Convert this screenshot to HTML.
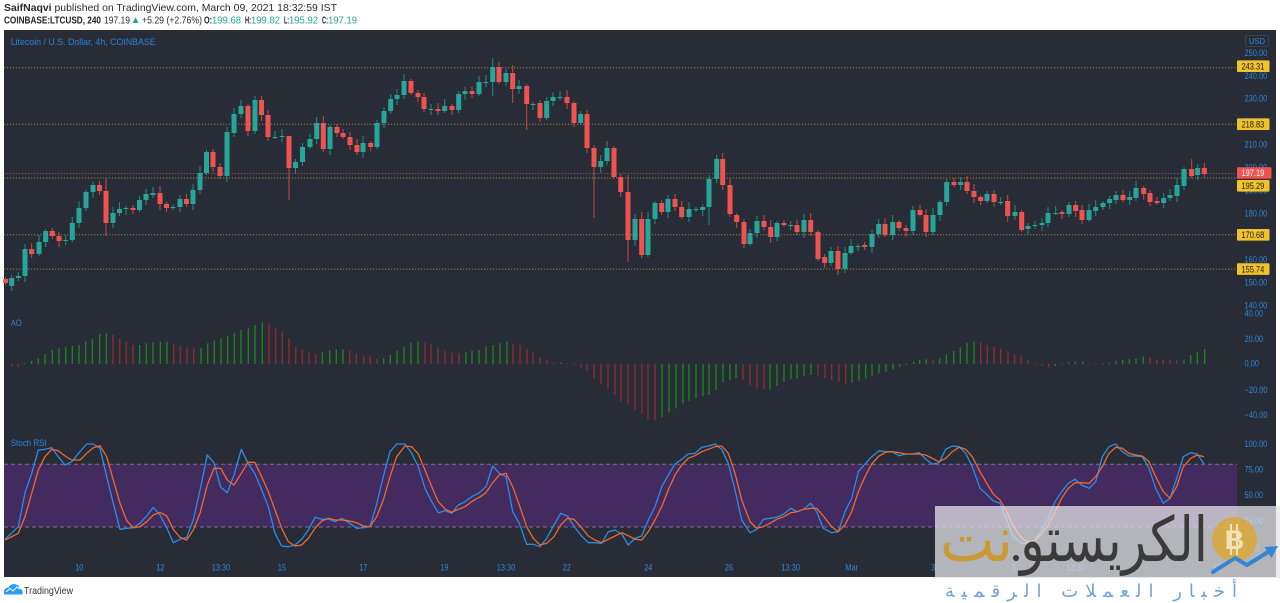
<!DOCTYPE html>
<html><head><meta charset="utf-8">
<style>
html,body{margin:0;padding:0;background:#fff;}
body{width:1280px;height:603px;overflow:hidden;position:relative;}
svg{position:absolute;left:0;top:0;display:block;}
</style></head>
<body>
<svg id="s" width="1280" height="603" viewBox="0 0 1280 603" xmlns="http://www.w3.org/2000/svg" font-family="'Liberation Sans', Arial, sans-serif">
<rect x="0" y="0" width="1280" height="603" fill="#ffffff"/>
<!-- header -->
<text x="4" y="11" font-size="10.5" fill="#2b2b2b" textLength="333" lengthAdjust="spacingAndGlyphs"><tspan font-weight="bold">SaifNaqvi</tspan> published on TradingView.com, March 09, 2021 18:32:59 IST</text>
<g font-size="10.5">
<text x="4" y="23.5" font-weight="bold" fill="#222" textLength="97" lengthAdjust="spacingAndGlyphs">COINBASE:LTCUSD, 240</text>
<text x="104" y="23.5" fill="#2b2b2b" textLength="26" lengthAdjust="spacingAndGlyphs">197.19</text>
<polygon points="132.5,23 138.5,23 135.5,17.3" fill="#26a69a"/>
<text x="142" y="23.5" fill="#2b2b2b" textLength="60" lengthAdjust="spacingAndGlyphs">+5.29 (+2.76%)</text>
<text x="204" y="23.5" fill="#222" font-weight="bold" textLength="8" lengthAdjust="spacingAndGlyphs">O:</text>
<text x="212" y="23.5" fill="#26a69a" textLength="29" lengthAdjust="spacingAndGlyphs">199.68</text>
<text x="245" y="23.5" fill="#222" font-weight="bold" textLength="6" lengthAdjust="spacingAndGlyphs">H:</text>
<text x="251" y="23.5" fill="#26a69a" textLength="29" lengthAdjust="spacingAndGlyphs">199.82</text>
<text x="284" y="23.5" fill="#222" font-weight="bold" textLength="5" lengthAdjust="spacingAndGlyphs">L:</text>
<text x="289" y="23.5" fill="#26a69a" textLength="29" lengthAdjust="spacingAndGlyphs">195.92</text>
<text x="322" y="23.5" fill="#222" font-weight="bold" textLength="6" lengthAdjust="spacingAndGlyphs">C:</text>
<text x="328" y="23.5" fill="#26a69a" textLength="29" lengthAdjust="spacingAndGlyphs">197.19</text>
</g>
<!-- chart bg -->
<rect x="4" y="30" width="1272" height="547" fill="#282c37"/>
<text x="10.7" y="45" font-size="9.5" fill="#2a83d8" textLength="145" lengthAdjust="spacingAndGlyphs">Litecoin / U.S. Dollar, 4h, COINBASE</text>
<text x="10.7" y="326" font-size="9.5" fill="#2a83d8" textLength="11" lengthAdjust="spacingAndGlyphs">AO</text>
<text x="10.7" y="446" font-size="9.5" fill="#2a83d8" textLength="36" lengthAdjust="spacingAndGlyphs">Stoch RSI</text>
<!-- stoch band -->
<rect x="4" y="464.3" width="1233" height="62.7" fill="#432b5f"/>
<line x1="4" y1="464.3" x2="1237" y2="464.3" stroke="#77708a" stroke-width="1" stroke-dasharray="4 3"/>
<line x1="4" y1="527" x2="1237" y2="527" stroke="#77708a" stroke-width="1" stroke-dasharray="4 3"/>
<!-- horizontal levels -->
<g stroke-width="1" stroke-dasharray="1.2 1.8">
<line x1="4" y1="67.7" x2="1237" y2="67.7" stroke="#9a8535"/>
<line x1="4" y1="124.2" x2="1237" y2="124.2" stroke="#9a8535"/>
<line x1="4" y1="173.5" x2="1237" y2="173.5" stroke="#a44848"/>
<line x1="4" y1="178" x2="1237" y2="178" stroke="#9a8535"/>
<line x1="4" y1="234.8" x2="1237" y2="234.8" stroke="#9a8535"/>
<line x1="4" y1="269.1" x2="1237" y2="269.1" stroke="#9a8535"/>
</g>
<g id="dyn"></g>
<!-- stoch lines -->
<polyline fill="none" stroke="#2a8ce6" stroke-width="1.3" stroke-linejoin="round" points="5,539.3 18.3,526.7 25,492.7 31.7,473.3 38.3,450 45,449.3 51.7,447.7 58.3,456.7 65,465 71.7,461.7 80,451.7 86.7,444 93.3,444 100,448.3 106.7,476.7 113.3,503.3 120,529.3 126.7,528.3 133.3,527.7 140,523.3 146.7,516 153.3,507.3 160,515 166.7,527.7 173.3,542.7 180,539.3 186.7,537.3 193.3,520 200,490 207.3,455 214,462.7 220.7,487.3 227.3,492.7 234,475 241.3,449.3 248,463.3 254.7,473.3 261.7,490 268.3,506.7 275,533.3 281.7,546 288.3,546.7 295,545 301.7,539.3 308.3,530 315,517.3 321.7,519.3 328.3,519 335,521.7 341.7,518.3 348.3,522.3 356.7,528.3 363.3,527.7 370,526.7 376.7,504 383.3,476.7 390,451.7 396.7,444 405,444 411.7,453.3 418.3,466.7 425,488.3 431.7,501.7 438.3,512.7 445,510.7 451.7,513.3 458.3,505 465,501.7 471.7,496.7 479.3,492.7 486,486.7 492.7,466 499.3,473.3 506,476.7 512.7,511.7 519.3,523.3 526.7,544.3 533.3,544.3 540,546.7 546.7,538.3 554,525 560.7,513.3 567.3,516 574,526 580.7,535 588.3,542.7 595,542.7 601.7,543.3 608.3,531.7 615,530 621.7,534 628.3,545 635,538.3 641.7,536 648.3,520 655,506.7 661.7,486.7 668.3,475 675,464 681.7,459.3 688.3,454 695,453.3 701.7,447.3 708.3,446 715,444 721.7,449.3 728.3,463.3 735,490 741.7,520 750,532.7 756.7,529.3 763.3,519.3 770,518.3 776.7,517.3 784,514 790.7,508.3 797.3,511.7 804,509 810.7,503.3 816.7,511.7 823.3,528.3 831.7,532.7 838.3,531.7 845,511.7 851.7,498.3 858.3,471.7 865,464 871.7,456.7 879,450.7 885.7,451.7 892.3,451.7 899,455.7 905.7,454 912.3,454 919,452.7 925.7,459 932.3,464.3 939,462.7 945.7,449.3 952.3,446 959,446.7 965.7,453.3 972.3,466.7 980,488.3 986.7,494.3 993.3,501 1000,503.3 1006.7,520 1013.3,536.7 1021.7,543.3 1028.3,542.7 1035,540 1041.7,530 1048.3,518.3 1055,501.7 1061.7,491.7 1068.3,483.3 1075,479.3 1081.7,485 1089,488.3 1095.7,481.7 1102.3,456.7 1109,446.7 1115.7,444 1122.3,451.7 1129,456 1135.7,456 1142.3,456.7 1149,468.3 1155.7,488.3 1163.3,503.3 1170,498.3 1176.7,478.3 1183.3,456.7 1190.7,452.7 1197.3,454 1204,464"/>
<polyline fill="none" stroke="#f0682a" stroke-width="1.3" stroke-linejoin="round" points="5,540 18.3,533.3 25,516.7 31.7,493.3 38.3,470 45,456.7 51.7,449.3 58.3,450.7 65,456 71.7,460 80,460 86.7,453.3 93.3,447.7 100,445.7 106.7,456.7 113.3,480 120,503.3 126.7,520.7 133.3,527.7 140,526.7 146.7,521.7 153.3,515 160,512.3 166.7,516 173.3,529.3 180,537.3 186.7,540 193.3,530 200,513.3 207.3,485 214,468.3 220.7,468.3 227.3,480 234,485 241.3,473.3 248,462.3 254.7,462.3 261.7,476.7 268.3,491.7 275,510 281.7,528.3 288.3,541.7 295,546 301.7,545 308.3,538.3 315,528.3 321.7,521 328.3,518.3 335,520 341.7,520 348.3,520.7 356.7,522.7 363.3,526 370,526.7 376.7,516.7 383.3,500 390,476.7 396.7,456.7 405,446 411.7,446.7 418.3,454 425,470 431.7,486.7 438.3,501.7 445,509 451.7,512.3 458.3,509.3 465,506.7 471.7,501.7 479.3,497.3 486,492.7 492.7,482.7 499.3,475 506,473.3 512.7,486.7 519.3,505 526.7,526.7 533.3,538.3 540,545 546.7,543.3 554,536.7 560.7,525 567.3,518.3 574,519.3 580.7,526.7 588.3,536 595,540 601.7,542.7 608.3,539.3 615,536 621.7,532.7 628.3,535.7 635,539.3 641.7,540 648.3,531.7 655,520 661.7,506.7 668.3,490 675,475 681.7,465 688.3,458.3 695,455.7 701.7,451.7 708.3,449.3 715,446.7 721.7,446 728.3,453.3 735,473.3 741.7,500 750,521.7 756.7,528.3 763.3,526.7 770,523.3 776.7,519.3 784,516.7 790.7,512.7 797.3,511.7 804,509.3 810.7,508.3 816.7,508.3 823.3,516 831.7,526.7 838.3,531.7 845,525 851.7,511.7 858.3,491.7 865,476.7 871.7,464 879,456 885.7,452.3 892.3,451.7 899,452.7 905.7,454 912.3,454 919,454 925.7,455 932.3,458.3 939,461.7 945.7,458.3 952.3,451.7 959,447.3 965.7,449.3 972.3,456.7 980,471.7 986.7,483.3 993.3,494 1000,500 1006.7,511.7 1013.3,526 1021.7,538.3 1028.3,541.7 1035,540 1041.7,534 1048.3,525 1055,511.7 1061.7,498.3 1068.3,488.3 1075,482.7 1081.7,482.7 1089,483.3 1095.7,476.7 1102.3,466.7 1109,453.3 1115.7,447.3 1122.3,448.3 1129,453.3 1135.7,455 1142.3,456 1149,461.7 1155.7,476.7 1163.3,491.7 1170,498.3 1176.7,486.7 1183.3,466.7 1190.7,458.3 1197.3,455 1204,456.7"/>
<!-- price scale -->
<g id="axis" font-size="9" fill="#2f87d6"></g>
<rect x="1245.5" y="35.5" width="23" height="11" rx="2" fill="none" stroke="#3b4252" stroke-width="1"/>
<text x="1249" y="44" font-size="8.5" fill="#2f87d6" textLength="16" lengthAdjust="spacingAndGlyphs">USD</text>
<g id="boxes"></g>
<!-- watermark -->
<rect x="935" y="506" width="345" height="72" fill="#e6e6ea" fill-opacity="0.74"/>
<circle cx="1234.5" cy="539.5" r="22.5" fill="#d9a83a" fill-opacity="0.85"/>
<text x="1234.5" y="549" font-size="27" font-weight="bold" fill="#f2e2b6" text-anchor="middle">B</text>
<line x1="1231" y1="524" x2="1231" y2="555" stroke="#f2e2b6" stroke-width="2"/>
<line x1="1237" y1="524" x2="1237" y2="555" stroke="#f2e2b6" stroke-width="2"/>
<text x="1020" y="561" font-family="'DejaVu Sans', sans-serif" font-size="62" fill="#3a3a3a" textLength="188" lengthAdjust="spacingAndGlyphs">الكريستو</text>
<circle cx="1016" cy="558" r="3" fill="#3a3a3a"/>
<text x="940" y="561" font-family="'DejaVu Sans', sans-serif" font-size="62" fill="#c99a33" textLength="73" lengthAdjust="spacingAndGlyphs">نت</text>
<polyline points="1213,572 1235,558 1247,565 1269,551.5" fill="none" stroke="#3585d0" stroke-width="4" stroke-linejoin="round" stroke-linecap="round"/>
<polygon points="1278,546 1264.5,547 1271.5,558" fill="#3585d0"/>
<text x="945" y="597" font-family="'DejaVu Sans', sans-serif" font-size="18" fill="#6ea3da" textLength="292" lengthAdjust="spacing">أخبار العملات الرقمية</text>
<!-- footer -->
<g fill="#2a9df4">
<ellipse cx="9" cy="591" rx="5" ry="3.5"/>
<ellipse cx="14" cy="588.5" rx="5.5" ry="4.5"/>
<ellipse cx="18.5" cy="591.5" rx="4" ry="3"/>
<rect x="4" y="591" width="18.5" height="3.5"/>
</g>
<polyline points="6,592 10,588.5 13,591 17,587 20,589" fill="none" stroke="#fff" stroke-width="1"/>
<text x="24" y="594" font-size="10.5" fill="#333" textLength="49" lengthAdjust="spacingAndGlyphs">TradingView</text>
</svg>
<script>
(function(){
const NS="http://www.w3.org/2000/svg";
function el(tag,a,p){const e=document.createElementNS(NS,tag);for(const k in a)e.setAttribute(k,a[k]);p.appendChild(e);return e;}
const dyn=document.getElementById('dyn');
const C=[[5.7,279,283],[11.7,286,278],[18.3,278,276],[25,276,249],[31.7,249,254],[39,254,242],[45.7,242,231],[52.3,231,236],[59,236,241],[65.7,241,240],[72.3,240,223],[79,223,208],[86,208,192],[93,192,185],[99.5,185,191],[106,191,223,178,236],[113,223,213],[119.5,213,209],[126,209,208],[133,208,210],[139.5,210,200],[146,200,194],[153,195,193],[160,193,204],[166.5,204,208],[173,208,207],[180,207,199],[186.5,199,204],[193,204,190],[200,190,173],[206.5,173,152],[213,152,167],[220,167,176],[227,176,132],[234,133,114],[241,114,106,100,118],[248,106,131],[255,131,100,96,134],[261.5,100,115],[268,115,137],[275,137,137],[282,137,136],[289,136,168,155,200],[295.5,168,162],[302.5,162,147],[310,147,139],[316.7,139,123],[323.3,123,149],[330,149,127],[337,127,133],[343,133,137],[350,137,145],[357,145,152],[363,152,143],[370.7,143,147],[377,147,123],[384,123,111],[390.7,111,99],[397,99,95],[404,95,81],[411,81,93],[418,93,97],[424,97,109],[431,109,109],[438,109,111],[444.7,111,106],[452,106,110],[458.7,110,94],[465,94,91],[472,91,94],[479,94,82],[486,82,82],[492.7,82,67,58,96],[499,67,82,62,84],[506,82,73],[512.7,73,89,65,103],[519,89,86],[526.7,86,104,84,130],[533,104,104],[540,103,118],[546.7,118,101],[553,101,97],[560,97,97],[567,97,103],[574,103,123],[580.7,123,114],[587,114,148],[594,148,167,145,218],[600.7,167,161],[607,161,148],[614,148,177],[620.7,177,192],[628,192,240,175,262],[635,240,219],[641.7,219,255,212,258],[648,255,219],[655,219,203],[661.7,203,212],[668,212,199],[675,199,207],[681.7,207,217],[689,217,209],[696,209,209],[702.7,210,207],[709,207,179,175,225],[716.7,179,159,155,183],[722.7,159,185],[730,185,214],[736.7,215,222],[744,222,244],[750,244,233],[757,233,221],[764,221,227],[770.7,227,237],[777,237,223],[784,223,225],[790.7,225,225],[797,225,232],[804,232,220],[810.7,220,232],[818,232,259],[824.7,257,263],[831,263,251],[838,251,269],[845,269,253],[851,253,246],[858,246,246],[864.7,245,247],[872,247,234],[878.7,234,224],[885,224,235],[892.7,235,222],[899,222,228],[906,228,231],[913,231,210],[920,210,215],[926,215,232],[933,232,215],[940,215,202],[946.7,202,182],[954,182,185],[960.7,185,182],[967,182,191],[974,191,197],[980.7,197,201],[987,201,194],[994,194,202],[1000.7,202,202],[1007.7,201,216],[1015,216,212],[1021.7,212,230],[1028,229,226],[1035,226,225],[1042,225,223],[1048,223,213],[1055.7,213,213],[1062,212,214],[1069,214,205],[1075.7,205,211],[1082,210,220],[1089,220,210],[1095.7,211,207],[1103,207,203],[1109.7,203,199],[1116,200,195],[1123,195,200],[1129.7,200,197],[1136,198,188],[1143.7,188,194],[1150,193,202],[1157,201,203],[1163.7,203,198],[1170,198,195],[1177,196,185],[1184,186,169],[1191.7,169,176,159,178],[1197.7,175,168],[1204.3,168,174]];
C.forEach((d,i)=>{
  const x=d[0],o=d[1],c=d[2];
  const up=c<=o;
  const col=up?'#26a69a':'#ef5350';
  const top=Math.min(o,c),bot=Math.max(o,c);
  const hi=d[3]!==undefined?d[3]:top-(2+(i*37)%6);
  const lo=d[4]!==undefined?d[4]:bot+(2+(i*53)%5);
  el('rect',{x:(x-0.5).toFixed(2),y:hi,width:1,height:(lo-hi).toFixed(2),fill:col,'fill-opacity':0.8},dyn);
  el('rect',{x:(x-2.5).toFixed(2),y:top,width:5,height:Math.max(1,bot-top),fill:col},dyn);
});
const A=[[11.7,366.7,0],[18.3,367,0],[25,363,1],[31.7,361,1],[38.3,358.3,1],[45,354,1],[52.3,350,1],[59,348.3,1],[65.7,346.7,1],[72.3,346,1],[79,345,1],[85.7,341.7,1],[92.3,339.3,1],[99.7,334,1],[106.3,333.3,1],[113,335,0],[119.7,338.3,0],[126.3,341.7,0],[133,345,0],[139.7,345,1],[146.3,343.3,1],[153,342.3,1],[160.3,341.7,1],[167,341.7,1],[173.7,343.3,0],[180.3,345.7,0],[187,347.7,0],[193.7,348.3,0],[201,347.7,1],[207.7,343.3,1],[214.3,340.7,1],[221,338.3,1],[227.7,336,1],[234.3,332.7,1],[241,330,1],[248.3,328.3,1],[255,325,1],[262.3,322.7,1],[269,324.3,0],[275.7,328.3,0],[282.3,331.7,0],[289,338.3,0],[295.7,346.7,0],[302.3,350,0],[309,352.3,0],[315.7,354,0],[322.3,352.3,1],[329.7,350,1],[336.3,349.3,1],[343,349.3,1],[349.7,350.7,0],[356.3,353.3,0],[363.7,355.7,0],[370.3,356.7,0],[377,359,0],[383.7,358.3,1],[390.3,355,1],[397,350.7,1],[404,346.7,1],[411,342.7,1],[418,341.7,1],[425,342.7,0],[431,344.3,0],[438,347.3,0],[445,350.7,0],[452,352.7,0],[459,353.3,0],[466,352.3,1],[472,350.7,1],[479,350,1],[486,346.7,1],[493,345,1],[500,343.3,1],[507,341.7,1],[513,343.3,0],[520,345,0],[527,349.3,0],[533,352.7,0],[540,357.7,0],[547,360,0],[554,362.5,0],[561,362.5,1],[567,363.5,0],[574,365,0],[581,367.3,0],[587,370.7,0],[594,378.3,0],[601,384,0],[608,389.3,0],[615,395,0],[621,401.7,0],[628,404.3,0],[635,410,0],[642,414,0],[648,419.3,0],[655,420,0],[662,417.3,1],[669,412.3,1],[676,408.3,1],[683,403.3,1],[689,400.7,1],[696,398.3,1],[703,396,1],[709,395,1],[716,390,1],[723,382.7,1],[730,380,1],[736,378.3,1],[743,380,0],[750,385,0],[757,388.3,0],[764,389.3,0],[770,389.3,1],[777,386,1],[784,381.7,1],[791,379.3,1],[797,378.3,1],[804,376,1],[811,375,1],[818,375.7,0],[825,378.3,0],[831.7,380,0],[839,381.7,0],[845.7,383.3,0],[852,382.7,1],[859,380.7,1],[865.7,378.3,1],[872,376,1],[879,373.3,1],[886,371.7,1],[893,369.3,1],[899.7,366.7,1],[906.3,365,1],[913.7,361.7,1],[919.7,360,1],[926.3,359.3,1],[933,360,0],[939.7,358.3,1],[946.3,354.3,1],[953.7,351,1],[960.3,347.3,1],[967,342.7,1],[974,341.7,1],[980.7,342.3,0],[987.3,345,0],[994,346.7,0],[1000.7,349,0],[1008,351,0],[1014.7,354,0],[1021.3,356.7,0],[1028,360,0],[1035.3,363,0],[1042,366,0],[1048.7,367.3,0],[1055.3,366,1],[1062,364.5,1],[1068.7,362.3,1],[1075.3,361.7,1],[1082.7,361.7,1],[1089.3,363.3,0],[1096,363.3,0],[1102.7,363.5,1],[1109.3,362.7,1],[1116,360.7,1],[1122.7,360,1],[1129.3,359,1],[1136,358.3,1],[1143.3,356.7,1],[1150,357.3,0],[1156.7,359.3,0],[1163.3,360,0],[1170,360,0],[1176.7,360.7,0],[1184,359.3,1],[1190.7,355,1],[1197.3,351.7,1],[1204.7,349,1]];
A.forEach(d=>{
  const x=d[0],y=d[1],z=364;
  const t=Math.min(y,z),h=Math.max(0.8,Math.abs(z-y));
  el('rect',{x:(x-0.6).toFixed(2),y:t,width:1.2,height:h.toFixed(2),fill:d[2]?'#1c8f1c':'#9a2c2c'},dyn);
});
function tl(s){let w=0;for(const ch of s){w+=ch=='.'?2.2:(ch=='\u2212'?4.4:(ch==':'?2.2:4.1));}return w;}
const ax=document.getElementById('axis');
function lab(x,y,s,anchor,p){const e=el('text',{x:x,y:y,textLength:tl(s).toFixed(1),lengthAdjust:'spacingAndGlyphs'},p||ax);if(anchor)e.setAttribute('text-anchor',anchor);e.textContent=s;return e;}
[[250,52.7],[240,75.7],[230,98.3],[220,121.3],[210,144.3],[200,167.3],[190,190.3],[180,213.3],[170,236.3],[160,259.3],[150,282.3],[140,305.3]].forEach(d=>lab(1244.5,d[1]+3.2,d[0].toFixed(2)));
[['40.00',313.5],['20.00',339],['0.00',363.3],['\u221220.00',390],['\u221240.00',415],['100.00',444],['75.00',469.3],['50.00',495],['25.00',520.7],['0.00',547.7]].forEach(d=>lab(1244.5,d[1]+3.2,d[0]));
[['10',79.3],['12',160.3],['13:30',221],['15',282],['17',363.3],['19',444.3],['13:30',506],['22',566.7],['24',648.3],['26',729],['13:30',790.7],['Mar',851.7],['3',933.3],['5',1014.3],['13:30',1075.7],['8',1136],['10',1217]].forEach(d=>{const e=lab(d[1],570.5,d[0],'middle');if(d[0]=='Mar'){e.setAttribute('textLength','13');}});
const bx=document.getElementById('boxes');
[['243.31',66.2,'#f0c22c','#1a1a1a'],['218.83',124.2,'#f0c22c','#1a1a1a'],['197.19',173,'#ef5350','#ffffff'],['195.29',185.8,'#f0c22c','#1a1a1a'],['170.68',234.8,'#f0c22c','#1a1a1a'],['155.74',269.1,'#f0c22c','#1a1a1a']].forEach(d=>{
  el('rect',{x:1237,y:d[1]-5.8,width:d[2]=='#ef5350'?34.5:32.5,height:11.6,rx:1,fill:d[2]},bx);
  const t=lab(1241.5,d[1]+3.2,d[0],null,bx);t.setAttribute('fill',d[3]);t.setAttribute('font-size','9');
});
})();
</script>
</body></html>
